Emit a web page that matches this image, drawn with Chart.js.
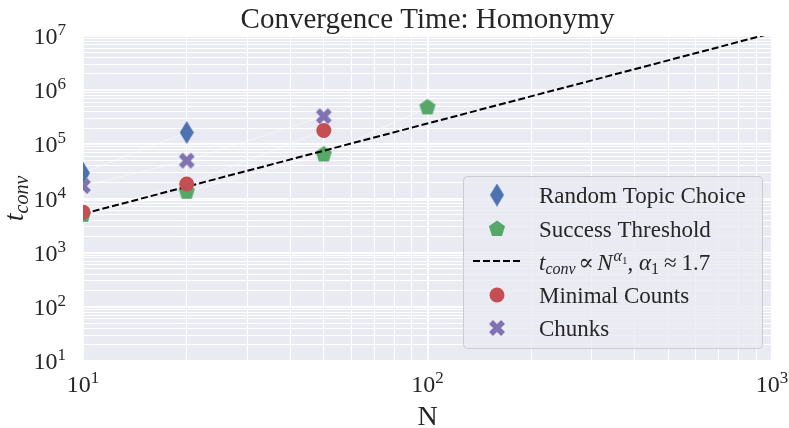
<!DOCTYPE html>
<html>
<head>
<meta charset="utf-8">
<script src="https://cdn.jsdelivr.net/npm/chart.js@4.4.0/dist/chart.umd.min.js"></script>
<style>
  html, body { margin: 0; padding: 0; background: #ffffff; }
  #wrap { width: 789px; height: 428px; }
</style>
</head>
<body>
<div id="wrap"><canvas id="chart" width="789" height="428"></canvas></div>
<script>
// values (N vs convergence time)
const randomTopicN = [10, 20];
const randomTopicT = [2.95e4, 1.65e5];
const successN = [10, 20, 50, 100];
const successT = [5.0e3, 1.33e4, 6.5e4, 4.8e5];
const minimalN = [10, 20, 50];
const minimalT = [5.6e3, 1.85e4, 1.8e5];
const chunksN = [10, 20, 50];
const chunksT = [1.7e4, 5.0e4, 3.3e5];
const fitN = [10, 1000];
const fitT = [5.2e3, 1.13e7];

const xTickExps = [1, 2, 3];
const yTickExps = [1, 2, 3, 4, 5, 6, 7];
const minorMults = [2, 3, 4, 5, 6, 7, 8, 9];

const BLUE = '#4C72B0';
const GREEN = '#55A868';
const RED = '#C44E52';
const PURPLE = '#8172B2';
const TEXT = '#262626';
const SERIF = "'Liberation Serif', 'DejaVu Serif', serif";

function toPoints(xs, ys) {
    return xs.map((x, i) => ({ x: x, y: ys[i] }));
}

function logTicks(exps) {
    const vals = [];
    exps.forEach((e, i) => {
        vals.push(Math.pow(10, e));
        if (i < exps.length - 1) {
            minorMults.forEach(m => vals.push(m * Math.pow(10, e)));
        }
    });
    return vals;
}

function isMajor(v) {
    const l = Math.log10(v);
    return Math.abs(l - Math.round(l)) < 1e-9;
}

// marker images
function makeMarker(w, h, draw) {
    const c = document.createElement('canvas');
    c.width = w;
    c.height = h;
    draw(c.getContext('2d'), w, h);
    return c;
}

const diamondImg = makeMarker(14, 23, (g, w, h) => {
    g.fillStyle = BLUE;
    g.beginPath();
    g.moveTo(w / 2, 0);
    g.lineTo(w, h / 2);
    g.lineTo(w / 2, h);
    g.lineTo(0, h / 2);
    g.closePath();
    g.fill();
});

const pentagonImg = makeMarker(18, 18, (g, w, h) => {
    const R = 8.5;
    g.fillStyle = GREEN;
    g.beginPath();
    for (let k = 0; k < 5; k++) {
        const a = -Math.PI / 2 + k * 2 * Math.PI / 5;
        const px = w / 2 + R * Math.cos(a);
        const py = h / 2 + R * Math.sin(a);
        if (k === 0) g.moveTo(px, py); else g.lineTo(px, py);
    }
    g.closePath();
    g.fill();
});

const crossImg = makeMarker(18, 18, (g, w, h) => {
    const c = w / 2, a = 6;
    g.strokeStyle = PURPLE;
    g.lineWidth = 5.5;
    g.lineCap = 'butt';
    g.beginPath();
    g.moveTo(c - a, c - a); g.lineTo(c + a, c + a);
    g.moveTo(c + a, c - a); g.lineTo(c - a, c + a);
    g.stroke();
});

// draws a run of text pieces (for sub/superscripts)
function drawRuns(ctx, x, y, runs) {
    runs.forEach(r => {
        ctx.font = (r.italic ? 'italic ' : '') + r.size + 'px ' + SERIF;
        ctx.fillText(r.text, x, y + (r.dy || 0));
        x += ctx.measureText(r.text).width + (r.gap || 0);
    });
    return x;
}

function runsWidth(ctx, runs) {
    let w = 0;
    runs.forEach(r => {
        ctx.font = (r.italic ? 'italic ' : '') + r.size + 'px ' + SERIF;
        w += ctx.measureText(r.text).width + (r.gap || 0);
    });
    return w;
}

function powerRuns(e) {
    return [{ text: '10', size: 24 }, { text: String(e), size: 17, dy: -9 }];
}

const plotBackground = {
    id: 'plotBackground',
    beforeDraw(chart) {
        const { ctx, chartArea } = chart;
        ctx.save();
        ctx.fillStyle = '#EAEAF2';
        ctx.fillRect(chartArea.left, chartArea.top, chartArea.right - chartArea.left, chartArea.bottom - chartArea.top);
        ctx.restore();
    }
};

const textLayer = {
    id: 'textLayer',
    afterDraw(chart) {
        const { ctx, chartArea } = chart;
        const xs = chart.scales.x, ys = chart.scales.y;
        ctx.save();
        ctx.fillStyle = TEXT;
        ctx.textBaseline = 'alphabetic';
        ctx.textAlign = 'left';

        // title
        ctx.font = '29px ' + SERIF;
        const title = 'Convergence Time: Homonymy';
        const tw = ctx.measureText(title).width;
        ctx.fillText(title, (chartArea.left + chartArea.right) / 2 - tw / 2, 28);

        // y tick labels
        yTickExps.forEach(e => {
            const py = ys.getPixelForValue(Math.pow(10, e));
            const runs = powerRuns(e);
            drawRuns(ctx, 66 - runsWidth(ctx, runs), py + 8, runs);
        });

        // x tick labels
        xTickExps.forEach(e => {
            const px = xs.getPixelForValue(Math.pow(10, e));
            const runs = powerRuns(e);
            drawRuns(ctx, px - runsWidth(ctx, runs) / 2, 392, runs);
        });

        // x axis title
        ctx.font = '28px ' + SERIF;
        const nw = ctx.measureText('N').width;
        ctx.fillText('N', (chartArea.left + chartArea.right) / 2 - nw / 2, 425);

        // y axis title
        const yRuns = [
            { text: 't', size: 28, italic: true },
            { text: 'conv', size: 20, italic: true, dy: 5 }
        ];
        ctx.save();
        ctx.translate(23, (chartArea.top + chartArea.bottom) / 2);
        ctx.rotate(-Math.PI / 2);
        drawRuns(ctx, -runsWidth(ctx, yRuns) / 2, 0, yRuns);
        ctx.restore();

        // legend
        const lx = 463, ly = 176, lw = 299, lh = 172;
        ctx.beginPath();
        ctx.roundRect(lx + 0.5, ly + 0.5, lw, lh, 4);
        ctx.fillStyle = 'rgba(234,234,242,0.8)';
        ctx.fill();
        ctx.strokeStyle = '#cccccc';
        ctx.lineWidth = 1;
        ctx.stroke();

        const mx = 497, tx = 539;
        const baselines = [203, 237, 270, 303, 336];
        ctx.drawImage(diamondImg, mx - diamondImg.width / 2, baselines[0] - 8 - diamondImg.height / 2);
        ctx.drawImage(pentagonImg, mx - pentagonImg.width / 2, baselines[1] - 8 - pentagonImg.height / 2);
        ctx.save();
        ctx.strokeStyle = '#000000';
        ctx.lineWidth = 2;
        ctx.setLineDash([7, 3]);
        ctx.beginPath();
        ctx.moveTo(473, baselines[2] - 9);
        ctx.lineTo(521, baselines[2] - 9);
        ctx.stroke();
        ctx.restore();
        ctx.fillStyle = RED;
        ctx.beginPath();
        ctx.arc(mx, baselines[3] - 8, 7.5, 0, Math.PI * 2);
        ctx.fill();
        ctx.drawImage(crossImg, mx - crossImg.width / 2, baselines[4] - 8 - crossImg.height / 2);

        ctx.fillStyle = TEXT;
        ctx.font = '23px ' + SERIF;
        ctx.fillText('Random Topic Choice', tx, baselines[0]);
        ctx.fillText('Success Threshold', tx, baselines[1]);
        drawRuns(ctx, tx, baselines[2], [
            { text: 't', size: 23, italic: true },
            { text: 'conv', size: 16, italic: true, dy: 4, gap: 3 },
            { text: '\u221D', size: 23, gap: 3 },
            { text: 'N', size: 23, italic: true, gap: 1 },
            { text: '\u03B1', size: 16, italic: true, dy: -9 },
            { text: '1', size: 11, dy: -6 },
            { text: ', ', size: 23 },
            { text: '\u03B1', size: 23, italic: true },
            { text: '1', size: 16, dy: 4, gap: 5 },
            { text: '\u2248', size: 23, gap: 5 },
            { text: '1.7', size: 23 }
        ]);
        ctx.font = '23px ' + SERIF;
        ctx.fillText('Minimal Counts', tx, baselines[3]);
        ctx.fillText('Chunks', tx, baselines[4]);
        ctx.restore();
    }
};

const faint = 'rgba(255,255,255,0.45)';

new Chart(document.getElementById('chart').getContext('2d'), {
    type: 'scatter',
    data: {
        datasets: [
            {
                label: 'Random Topic Choice',
                data: toPoints(randomTopicN, randomTopicT),
                pointStyle: diamondImg,
                pointRadius: 8,
                showLine: true,
                borderColor: faint,
                borderWidth: 1,
                clip: 0,
                order: 5
            },
            {
                label: 'Success Threshold',
                data: toPoints(successN, successT),
                pointStyle: pentagonImg,
                pointRadius: 8,
                showLine: true,
                borderColor: faint,
                borderWidth: 1,
                clip: 0,
                order: 4
            },
            {
                label: 'fit',
                data: toPoints(fitN, fitT),
                showLine: true,
                pointRadius: 0,
                borderColor: '#000000',
                borderWidth: 2,
                borderDash: [7, 3],
                clip: 0,
                order: 3
            },
            {
                label: 'Minimal Counts',
                data: toPoints(minimalN, minimalT),
                pointStyle: 'circle',
                pointRadius: 7.5,
                pointBackgroundColor: RED,
                pointBorderWidth: 0,
                showLine: true,
                borderColor: faint,
                borderWidth: 1,
                clip: 0,
                order: 2
            },
            {
                label: 'Chunks',
                data: toPoints(chunksN, chunksT),
                pointStyle: crossImg,
                pointRadius: 8,
                showLine: true,
                borderColor: faint,
                borderWidth: 1,
                clip: 0,
                order: 1
            }
        ]
    },
    options: {
        responsive: false,
        animation: false,
        events: [],
        layout: { padding: { top: 36, right: 17, left: 0, bottom: 0 } },
        plugins: {
            legend: { display: false },
            title: { display: false },
            tooltip: { enabled: false }
        },
        scales: {
            x: {
                type: 'logarithmic',
                min: 10,
                max: 1000,
                afterBuildTicks: scale => { scale.ticks = logTicks(xTickExps).map(v => ({ value: v })); },
                afterFit: scale => { scale.height = 67; },
                ticks: { display: false },
                border: { display: false },
                grid: {
                    color: '#ffffff',
                    drawTicks: false,
                    lineWidth: c => (c.tick && isMajor(c.tick.value)) ? 1.8 : 1
                }
            },
            y: {
                type: 'logarithmic',
                min: 10,
                max: 1e7,
                afterBuildTicks: scale => { scale.ticks = logTicks(yTickExps).map(v => ({ value: v })); },
                afterFit: scale => { scale.width = 83; },
                ticks: { display: false },
                border: { display: false },
                grid: {
                    color: '#ffffff',
                    drawTicks: false,
                    lineWidth: c => (c.tick && isMajor(c.tick.value)) ? 1.8 : 1
                }
            }
        }
    },
    plugins: [plotBackground, textLayer]
});
</script>
</body>
</html>
